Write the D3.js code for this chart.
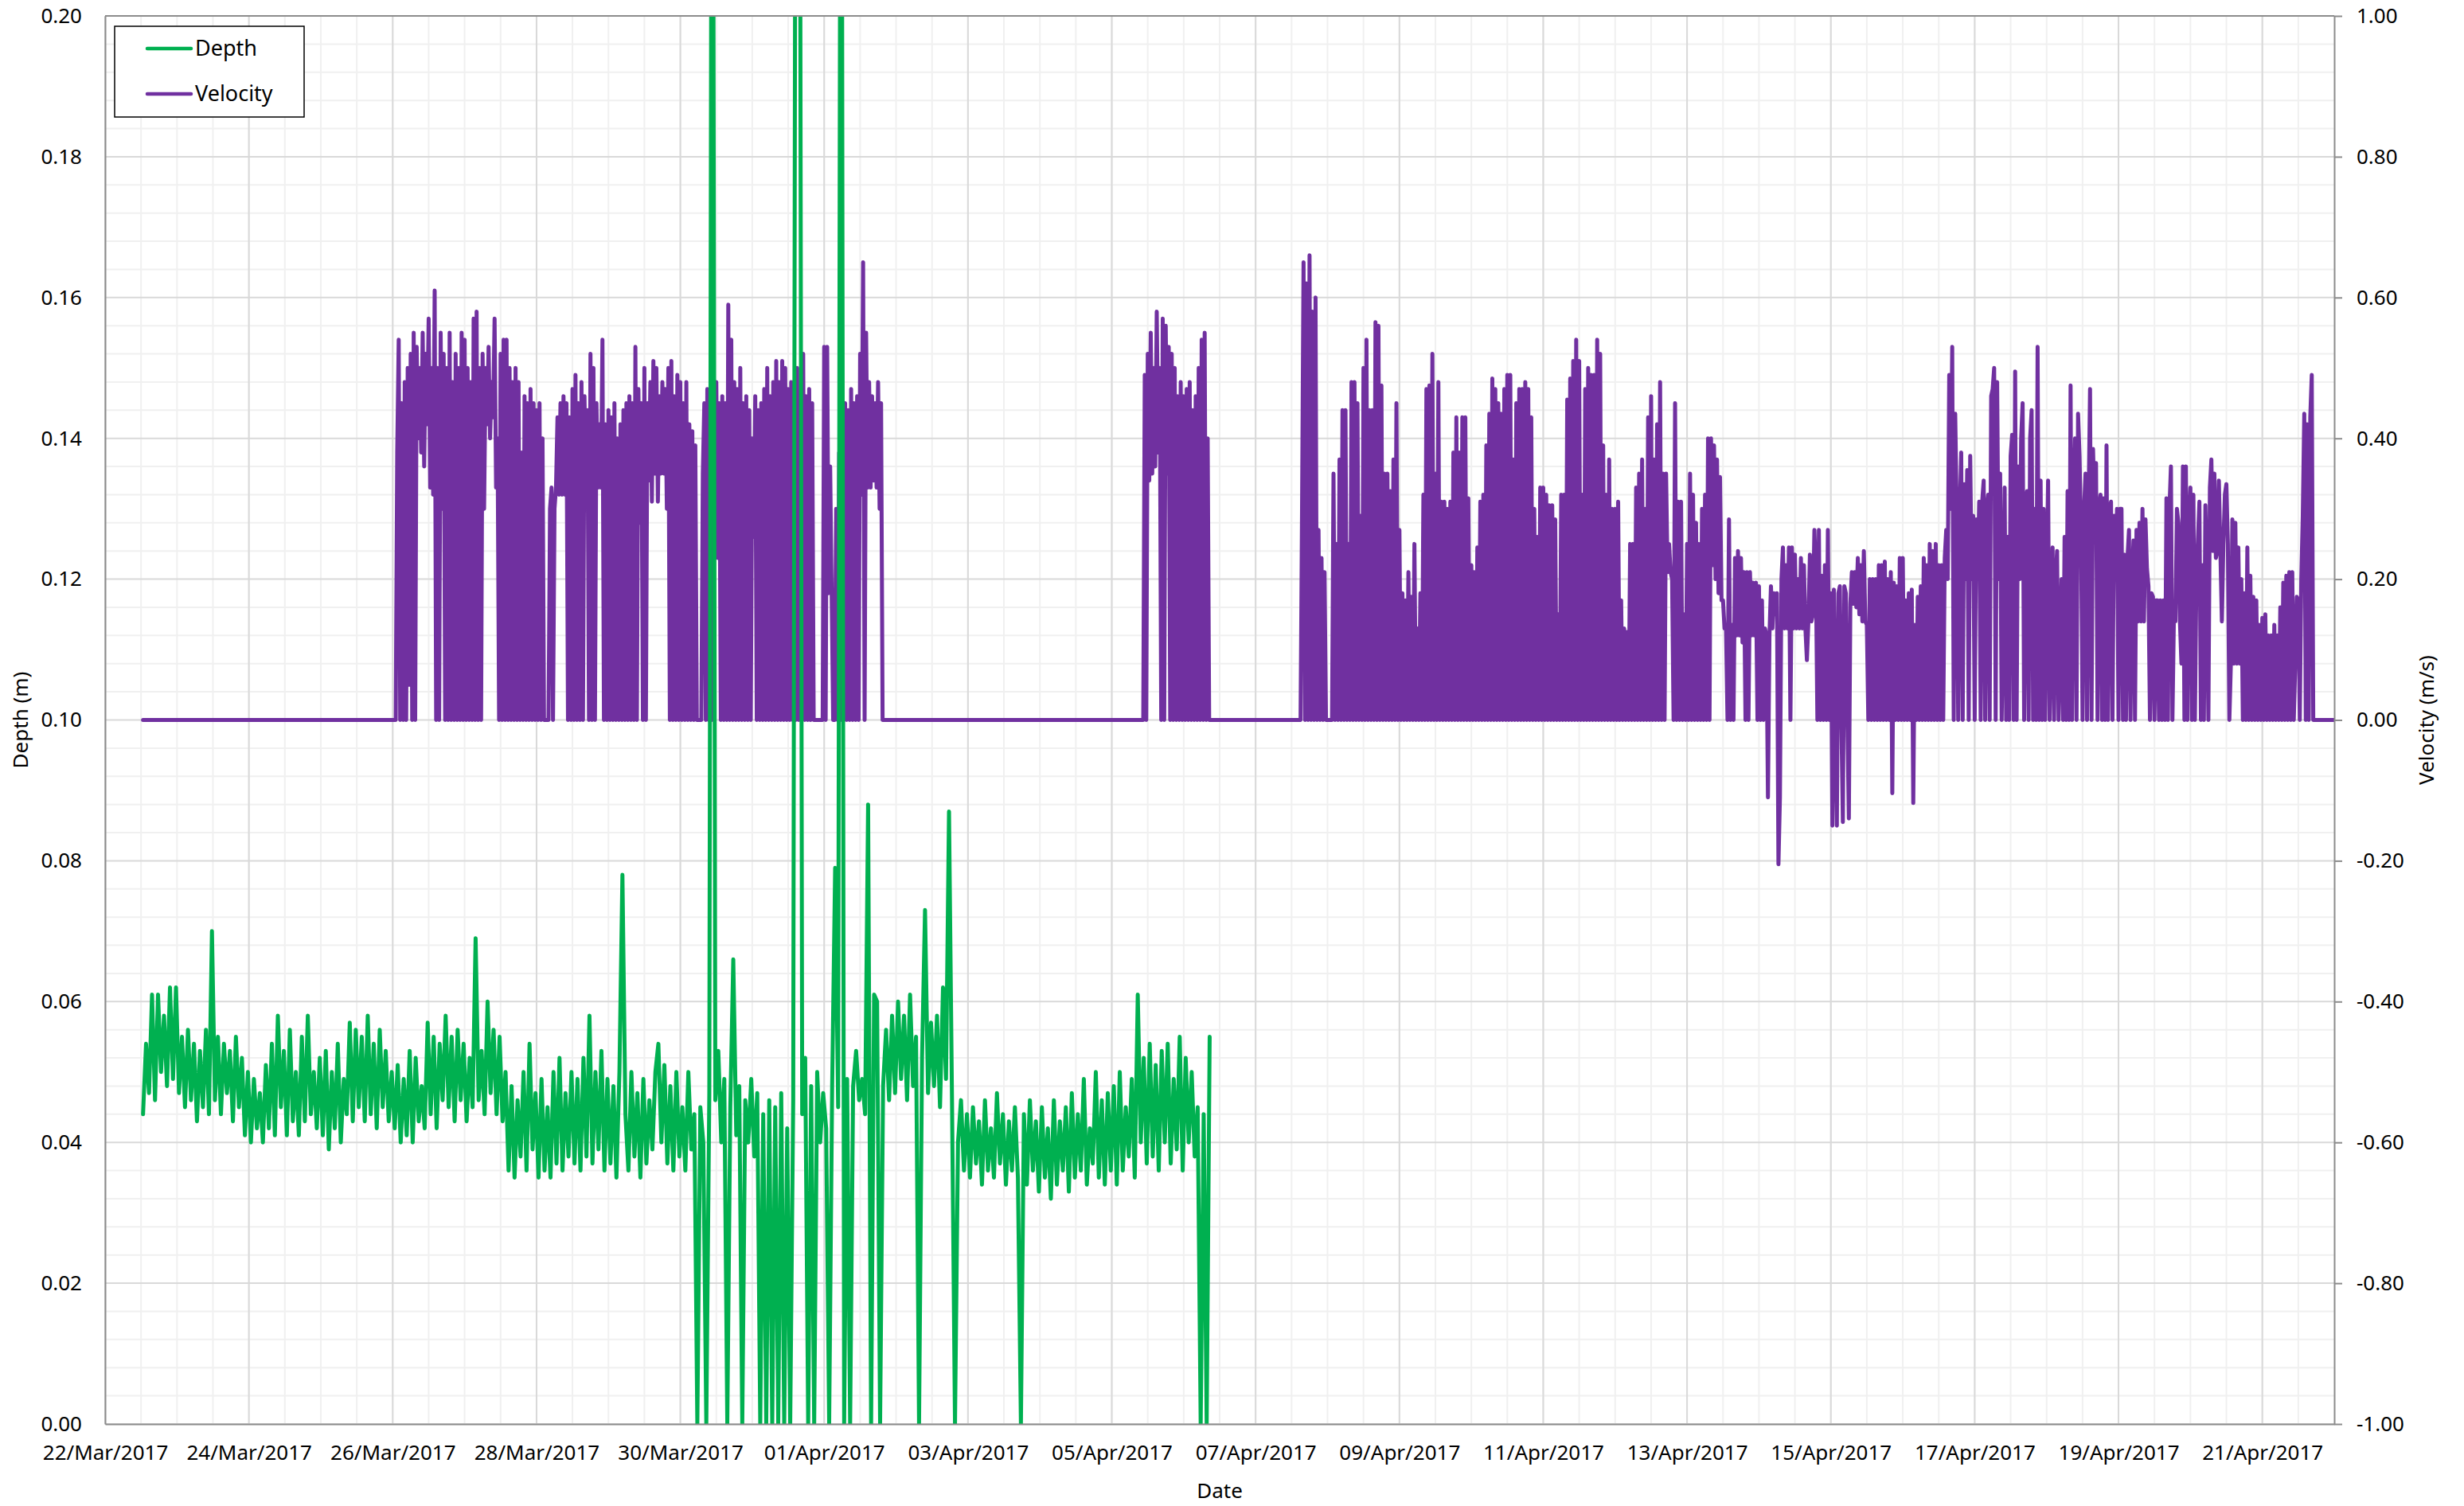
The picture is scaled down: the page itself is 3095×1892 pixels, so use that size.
<!DOCTYPE html>
<html>
<head>
<meta charset="utf-8">
<script src="https://cdn.jsdelivr.net/npm/d3@7"></script>
<style>
  body { margin: 0; background: #fff; }
  svg text { font-family: "Noto Sans", sans-serif; fill: #000; }
</style>
</head>
<body>
<div id="chart-container"></div>
<script>
// Axis ticks
var dateTicks = ["2017-03-22", "2017-03-24", "2017-03-26", "2017-03-28", "2017-03-30",
    "2017-04-01", "2017-04-03", "2017-04-05", "2017-04-07", "2017-04-09", "2017-04-11",
    "2017-04-13", "2017-04-15", "2017-04-17", "2017-04-19", "2017-04-21"];
var depthTicks = [0, 0.02, 0.04, 0.06, 0.08, 0.10, 0.12, 0.14, 0.16, 0.18, 0.20];
var velocityTicks = [-1, -0.8, -0.6, -0.4, -0.2, 0, 0.2, 0.4, 0.6, 0.8, 1];

// Logging period
var recordStart = "2017-03-22T12:40:00Z";
var recordEnd = "2017-04-22T00:00:00Z";

// Depth (m), hourly from recordStart
var depthStart = "2017-03-22T12:40:00Z";
var depthValues = [
    0.044, 0.054, 0.047, 0.061, 0.046, 0.061, 0.050, 0.058, 0.048, 0.062, 0.049, 0.062,
    0.047, 0.055, 0.045, 0.056, 0.046, 0.054, 0.043, 0.053, 0.045, 0.056, 0.044, 0.070,
    0.046, 0.055, 0.044, 0.054, 0.047, 0.053, 0.043, 0.055, 0.045, 0.052, 0.041, 0.050,
    0.040, 0.049, 0.042, 0.047, 0.040, 0.051, 0.042, 0.054, 0.041, 0.058, 0.045, 0.053,
    0.041, 0.056, 0.043, 0.050, 0.041, 0.055, 0.043, 0.058, 0.044, 0.050, 0.042, 0.052,
    0.041, 0.053, 0.039, 0.050, 0.042, 0.054, 0.040, 0.049, 0.044, 0.057, 0.043, 0.056,
    0.045, 0.055, 0.043, 0.058, 0.044, 0.054, 0.042, 0.056, 0.045, 0.053, 0.043, 0.050,
    0.042, 0.051, 0.040, 0.049, 0.041, 0.053, 0.040, 0.052, 0.043, 0.048, 0.042, 0.057,
    0.044, 0.055, 0.042, 0.054, 0.046, 0.058, 0.045, 0.055, 0.043, 0.056, 0.046, 0.054,
    0.043, 0.052, 0.045, 0.069, 0.046, 0.053, 0.044, 0.060, 0.047, 0.056, 0.044, 0.055,
    0.043, 0.050, 0.036, 0.048, 0.035, 0.046, 0.038, 0.050, 0.036, 0.054, 0.039, 0.047,
    0.035, 0.049, 0.036, 0.045, 0.035, 0.050, 0.037, 0.052, 0.036, 0.047, 0.038, 0.050,
    0.037, 0.049, 0.036, 0.052, 0.038, 0.058, 0.037, 0.050, 0.039, 0.053, 0.036, 0.049,
    0.037, 0.048, 0.035, 0.050, 0.078, 0.044, 0.036, 0.050, 0.038, 0.047, 0.035, 0.049,
    0.037, 0.046, 0.039, 0.050, 0.054, 0.040, 0.051, 0.037, 0.048, 0.036, 0.050, 0.038,
    0.045, 0.036, 0.050, 0.039, 0.044, 0, 0.045, 0.040, 0, 0.047, 0.300, 0.046,
    0.053, 0.040, 0.049, 0, 0.045, 0.066, 0.041, 0.048, 0, 0.046, 0.040, 0.049,
    0.038, 0.047, 0, 0.044, 0, 0.046, 0, 0.045, 0, 0.047, 0, 0.042,
    0, 0.046, 0.300, 0.300, 0.044, 0.052, 0, 0.048, 0, 0.050, 0.040, 0.047,
    0.042, 0, 0.048, 0.079, 0.045, 0.300, 0, 0.049, 0, 0.048, 0.053, 0.046,
    0.049, 0.044, 0.088, 0, 0.061, 0.060, 0, 0.048, 0.056, 0.046, 0.058, 0.047,
    0.060, 0.049, 0.058, 0.046, 0.061, 0.048, 0.055, 0, 0.052, 0.073, 0.047, 0.057,
    0.048, 0.058, 0.045, 0.062, 0.049, 0.087, 0.046, 0, 0.040, 0.046, 0.036, 0.044,
    0.035, 0.045, 0.037, 0.043, 0.034, 0.046, 0.036, 0.042, 0.035, 0.047, 0.037, 0.044,
    0.034, 0.043, 0.036, 0.045, 0.035, 0, 0.044, 0.034, 0.046, 0.036, 0.043, 0.033,
    0.045, 0.035, 0.042, 0.032, 0.046, 0.034, 0.043, 0.036, 0.045, 0.033, 0.047, 0.035,
    0.044, 0.036, 0.049, 0.034, 0.042, 0.037, 0.050, 0.035, 0.046, 0.034, 0.047, 0.036,
    0.048, 0.034, 0.050, 0.036, 0.045, 0.038, 0.049, 0.035, 0.061, 0.040, 0.052, 0.037,
    0.054, 0.038, 0.051, 0.036, 0.053, 0.040, 0.054, 0.037, 0.049, 0.039, 0.055, 0.036,
    0.052, 0.040, 0.050, 0.038, 0.045, 0, 0.044, 0, 0.055
];

// Velocity (m/s), 30 minute readings; zero outside these blocks
var velStart1 = "2017-03-26T00:00:00Z";
var velocity1 = [
    0,0, 0,0.38, 0.54,0, 0.45,0, 0.48,0, 0.50,0.05,
    0.52,0, 0.55,0, 0.53,0.40, 0.50,0.38, 0.55,0.36, 0.52,0.42,
    0.57,0.33, 0.50,0.32, 0.61,0, 0.50,0, 0.55,0.30, 0.52,0,
    0.50,0, 0.55,0, 0.48,0, 0.52,0, 0.50,0, 0.55,0,
    0.54,0, 0.50,0, 0.48,0, 0.57,0, 0.58,0, 0.50,0,
    0.52,0.30, 0.50,0.42, 0.53,0.40, 0.48,0.43, 0.57,0.33, 0.40,0,
    0.52,0, 0.54,0, 0.54,0, 0.50,0, 0.48,0, 0.50,0,
    0.48,0, 0.38,0, 0.46,0, 0.45,0, 0.47,0, 0.45,0,
    0.44,0, 0.45,0, 0.40,0, 0,0, 0,0.30, 0.33,0,
    0.30,0.33, 0.43,0.32, 0.45,0.32, 0.46,0.32, 0.45,0, 0.43,0,
    0.47,0, 0.49,0, 0.45,0, 0.48,0, 0.46,0.33, 0.44,0,
    0.52,0, 0.50,0, 0.45,0.33, 0.42,0.33, 0.54,0, 0.42,0,
    0.44,0, 0.43,0, 0.45,0, 0.40,0, 0.42,0, 0.44,0,
    0.45,0, 0.46,0, 0.45,0, 0.53,0, 0.47,0.28, 0.45,0,
    0.50,0, 0.45,0.34, 0.48,0.31, 0.51,0.35, 0.50,0.31, 0.46,0.35,
    0.48,0.35, 0.47,0.30, 0.50,0, 0.51,0, 0.46,0, 0.49,0,
    0.48,0, 0.45,0, 0.48,0, 0.42,0, 0.41,0, 0.39,0,
    0,0, 0,0.35, 0.45,0, 0.47,0, 0.46,0, 0.47,0.23,
    0.48,0.23, 0.45,0, 0.46,0, 0.45,0, 0.59,0, 0.54,0,
    0.48,0, 0.47,0, 0.50,0, 0.45,0, 0.46,0, 0.44,0,
    0.40,0.26, 0.46,0, 0.44,0, 0.45,0, 0.47,0, 0.50,0,
    0.46,0, 0.48,0, 0.51,0, 0.48,0, 0.51,0, 0.50,0,
    0.47,0, 0.48,0, 0.48,0, 0.50,0, 0.45,0.29, 0.52,0,
    0.46,0, 0.47,0, 0.45,0, 0,0, 0,0, 0,0,
    0.53,0, 0.53,0.18, 0.36,0.18, 0,0, 0.30,0, 0.38,0,
    0.42,0, 0.45,0, 0.44,0, 0.47,0, 0.45,0, 0.46,0,
    0.52,0.32, 0.65,0, 0.55,0.33, 0.48,0.33, 0.46,0.34, 0.45,0.33,
    0.48,0.30, 0.45,0, 0,0
];

var velStart2 = "2017-04-05T10:00:00Z";
var velocity2 = [
    0,0, 0.49,0, 0.52,0.34, 0.55,0.35, 0.50,0.36, 0.58,0.38,
    0.50,0, 0.57,0, 0.56,0.35, 0.53,0, 0.52,0, 0.50,0,
    0.46,0, 0.48,0, 0.46,0, 0.47,0, 0.48,0, 0.44,0,
    0.46,0, 0.50,0, 0.54,0, 0.55,0, 0.40,0, 0,0
];

var velStart3 = "2017-04-07T15:00:00Z";
var velocity3 = [
    0,0.30, 0.65,0, 0.62,0, 0.66,0, 0.58,0, 0.60,0,
    0.27,0, 0.23,0, 0.21,0, 0,0, 0,0, 0.35,0,
    0.25,0, 0.37,0, 0.44,0, 0.44,0, 0.25,0, 0.48,0,
    0.48,0, 0.45,0, 0.29,0, 0.50,0, 0.54,0, 0.44,0,
    0.44,0, 0.565,0, 0.56,0, 0.475,0, 0.35,0, 0.35,0,
    0.325,0, 0.37,0, 0.45,0, 0.27,0, 0.18,0, 0.17,0,
    0.21,0, 0.175,0, 0.25,0, 0.13,0, 0.18,0, 0.32,0,
    0.47,0, 0.475,0, 0.52,0, 0.35,0, 0.48,0, 0.31,0,
    0.31,0, 0.30,0, 0.31,0, 0.38,0, 0.43,0, 0.38,0,
    0.43,0, 0.43,0, 0.315,0, 0.22,0, 0.21,0, 0.245,0,
    0.31,0, 0.32,0, 0.39,0, 0.435,0, 0.485,0, 0.47,0,
    0.45,0, 0.435,0, 0.47,0, 0.49,0, 0.49,0, 0.37,0,
    0.45,0, 0.47,0, 0.47,0, 0.48,0, 0.47,0, 0.43,0,
    0.30,0, 0.26,0, 0.33,0, 0.33,0, 0.32,0, 0.305,0,
    0.305,0, 0.285,0, 0.15,0, 0.32,0, 0.32,0, 0.455,0,
    0.485,0, 0.51,0, 0.54,0, 0.51,0, 0.32,0, 0.47,0,
    0.50,0, 0.49,0, 0.49,0, 0.54,0, 0.52,0, 0.39,0,
    0.32,0, 0.37,0, 0.30,0, 0.30,0, 0.31,0, 0.17,0,
    0.13,0, 0.125,0, 0.25,0, 0.25,0, 0.33,0, 0.35,0,
    0.37,0, 0.30,0, 0.43,0, 0.46,0, 0.37,0, 0.42,0,
    0.48,0, 0.35,0, 0.35,0.21, 0.25,0.21, 0.20,0, 0.45,0,
    0.31,0, 0.31,0, 0.15,0, 0.25,0, 0.35,0, 0.32,0,
    0.28,0, 0.25,0, 0.30,0, 0.32,0, 0.40,0, 0.40,0.22,
    0.39,0.20, 0.37,0.18, 0.345,0.17, 0.17,0.13, 0.13,0, 0.285,0,
    0.135,0, 0.23,0.12, 0.24,0.12, 0.23,0.11, 0.21,0, 0.21,0,
    0.21,0.12, 0.195,0.12, 0.195,0, 0.19,0, 0.17,0, 0.13,0.12,
    -0.11,0.12, 0.19,0.13, 0.18,0.15, 0.18,-0.205, -0.11,0.20, 0.245,0.13,
    0.22,0.13, 0.245,0, 0.245,0.13, 0.235,0.13, 0.20,0.13, 0.23,0.13,
    0.22,0.13, 0.085,0.14, 0.235,0.14, 0.15,0.27, 0.205,0, 0.27,0,
    0.205,0, 0.22,0, 0.27,0, 0.18,-0.15, 0.185,0, -0.15,0.18,
    0.19,0, -0.145,0.19, 0.18,0, -0.14,0.165, 0.21,0.165, 0.21,0.16,
    0.23,0.15, 0.22,0.14, 0.24,0.14, 0.135,0, 0.20,0, 0.20,0,
    0.20,0, 0.22,0, 0.22,0, 0.225,0, 0.20,0, 0.21,-0.104,
    0.195,0, 0.19,0, 0.23,0, 0.23,0, 0.17,0, 0.18,0,
    0.185,-0.118, 0.135,0, 0.175,0, 0.19,0, 0.23,0, 0.22,0,
    0.25,0, 0.24,0, 0.25,0, 0.22,0, 0.22,0, 0.23,0.27,
    0.2,0.49, 0.3,0.53, 0,0.435, 0.3,0, 0.29,0.38, 0,0.335,
    0.2,0.355, 0,0.375, 0.2,0.29, 0,0.285, 0.2,0.31, 0,0.31,
    0.34,0, 0.3,0.32, 0,0.46, 0.47,0.50, 0,0.48, 0.2,0.35,
    0,0.15, 0.33,0, 0.26,0, 0.375,0.405, 0,0.495, 0,0.36,
    0.2,0.40, 0.45,0, 0.3,0.325, 0,0.40, 0.44,0, 0.3,0,
    0.53,0, 0.34,0, 0.30,0, 0.2,0.34, 0,0.14, 0.245,0,
    0.2,0.24, 0,0.12, 0.2,0, 0.26,0, 0.325,0, 0.475,0,
    0.3,0.40, 0,0.435, 0.375,0.26, 0,0.3, 0.35,0, 0.3,0.47,
    0,0.385, 0.3,0.365, 0,0.3, 0.32,0, 0.315,0, 0.39,0,
    0.3,0.31, 0,0.29, 0.2,0.30, 0,0.3, 0.30,0, 0.235,0,
    0.23,0.27, 0,0.2, 0.255,0, 0.27,0.14, 0.28,0.14, 0.30,0.14,
    0.285,0.215, 0.19,0, 0.18,0.175, 0,0.17, 0.17,0, 0.17,0,
    0.17,0, 0.315,0, 0.3,0.36, 0,0.15, 0.14,0.30, 0.28,0.14,
    0.08,0.36, 0,0.36, 0,0.28, 0.33,0, 0.32,0, 0.2,0.255,
    0.31,0, 0.22,0, 0.305,0.2, 0,0.33, 0.37,0.24, 0.35,0.23,
    0.24,0.34, 0.24,0.14, 0.25,0.32, 0.335,0.25, 0,0.08, 0.285,0.08,
    0.28,0.08, 0.245,0.08, 0.2,0, 0.18,0, 0.245,0, 0.205,0,
    0.175,0, 0.17,0, 0.135,0, 0.145,0, 0.15,0, 0.12,0,
    0.12,0, 0.135,0, 0.12,0, 0.16,0, 0.195,0, 0.205,0,
    0.21,0, 0.21,0, 0.08,0.175, 0.17,0, 0.2,0.29, 0.435,0,
    0.42,0, 0.43,0.49, 0,0
];

// Set up margins and dimensions
var margin = { top: 20, right: 163, bottom: 103, left: 132 };
var width = 2800;
var height = 1769;

var parseDay = d3.utcParse("%Y-%m-%d");

function series(start, stepMinutes, values) {
    var t0 = new Date(start).getTime();
    return values.map(function(v, i) {
        return { t: new Date(t0 + i * stepMinutes * 60000), v: v };
    });
}

var depthData = series(depthStart, 60, depthValues);
var velocityData = [{ t: new Date(recordStart), v: 0 }]
    .concat(series(velStart1, 30, velocity1))
    .concat(series(velStart2, 30, velocity2))
    .concat(series(velStart3, 30, velocity3))
    .concat([{ t: new Date(recordEnd), v: 0 }]);

// Scales
var xScale = d3.scaleUtc()
    .domain([parseDay("2017-03-22"), parseDay("2017-04-22")])
    .range([0, width]);
var yDepth = d3.scaleLinear().domain([0, 0.2]).range([height, 0]);
var yVel = d3.scaleLinear().domain([-1, 1]).range([height, 0]);

var svg = d3.select("#chart-container")
    .append("svg")
    .attr("width", 3095)
    .attr("height", 1892)
    .append("g")
    .attr("transform", "translate(" + margin.left + "," + margin.top + ")");

// Gridlines: minor first, then major
var minorY = d3.range(0, 51).filter(function(i) { return i % 5 !== 0; }).map(function(i) { return i * 0.004; });
var minorX = d3.utcHour.every(12).range(xScale.domain()[0], xScale.domain()[1]);

svg.append("g").selectAll("line").data(minorY).enter().append("line")
    .attr("x1", 0).attr("x2", width)
    .attr("y1", function(d) { return yDepth(d); })
    .attr("y2", function(d) { return yDepth(d); })
    .attr("stroke", "#f0f0f0").attr("stroke-width", 2);

svg.append("g").selectAll("line").data(minorX).enter().append("line")
    .attr("y1", 0).attr("y2", height)
    .attr("x1", function(d) { return xScale(d); })
    .attr("x2", function(d) { return xScale(d); })
    .attr("stroke", "#f0f0f0").attr("stroke-width", 2);

svg.append("g").selectAll("line").data(depthTicks).enter().append("line")
    .attr("x1", 0).attr("x2", width)
    .attr("y1", function(d) { return yDepth(d); })
    .attr("y2", function(d) { return yDepth(d); })
    .attr("stroke", "#d9d9d9").attr("stroke-width", 2);

svg.append("g").selectAll("line").data(dateTicks.map(parseDay)).enter().append("line")
    .attr("y1", 0).attr("y2", height)
    .attr("x1", function(d) { return xScale(d); })
    .attr("x2", function(d) { return xScale(d); })
    .attr("stroke", "#d9d9d9").attr("stroke-width", 2);

// Lines
svg.append("clipPath").attr("id", "plot-clip")
    .append("rect").attr("x", 0).attr("y", 0).attr("width", width).attr("height", height);

var lineVelocity = d3.line()
    .x(function(d) { return xScale(d.t); })
    .y(function(d) { return yVel(d.v); });

var lineDepth = d3.line()
    .x(function(d) { return xScale(d.t); })
    .y(function(d) { return yDepth(d.v); });

svg.append("path")
    .datum(velocityData)
    .attr("clip-path", "url(#plot-clip)")
    .attr("fill", "none")
    .attr("stroke", "#7030a0")
    .attr("stroke-width", 5)
    .attr("stroke-linejoin", "round")
    .attr("stroke-linecap", "round")
    .attr("d", lineVelocity);

svg.append("path")
    .datum(depthData)
    .attr("clip-path", "url(#plot-clip)")
    .attr("fill", "none")
    .attr("stroke", "#00b050")
    .attr("stroke-width", 5)
    .attr("stroke-linejoin", "round")
    .attr("stroke-linecap", "round")
    .attr("d", lineDepth);

// Axes
var axisColor = "#8c8c8c";
var fmt2 = function(d) { return d.toFixed(2); };

var leftAxis = svg.append("g")
    .call(d3.axisLeft(yDepth).tickValues(depthTicks).tickFormat(fmt2)
        .tickSize(0).tickSizeOuter(0).tickPadding(29));

var rightAxis = svg.append("g")
    .attr("transform", "translate(" + width + ",0)")
    .call(d3.axisRight(yVel).tickValues(velocityTicks).tickFormat(fmt2)
        .tickSize(10).tickSizeOuter(0).tickPadding(18));

var bottomAxis = svg.append("g")
    .attr("transform", "translate(0," + height + ")")
    .call(d3.axisBottom(xScale).tickValues(dateTicks.map(parseDay))
        .tickFormat(d3.utcFormat("%d/%b/%Y"))
        .tickSize(0).tickSizeOuter(0).tickPadding(27));

[leftAxis, rightAxis, bottomAxis].forEach(function(ax) {
    ax.attr("font-family", "Noto Sans").attr("font-size", 26);
    ax.selectAll(".domain").attr("stroke", axisColor).attr("stroke-width", 2);
    ax.selectAll(".tick line").attr("stroke", axisColor).attr("stroke-width", 2);
    ax.selectAll("text").attr("fill", "#000");
});

svg.append("line")
    .attr("x1", 0).attr("x2", width).attr("y1", 0).attr("y2", 0)
    .attr("stroke", axisColor).attr("stroke-width", 2);

// Axis titles
svg.append("text")
    .attr("x", width / 2)
    .attr("y", 1882 - margin.top)
    .attr("text-anchor", "middle")
    .style("font-size", "26px")
    .text("Date");

svg.append("text")
    .attr("transform", "translate(" + (35 - margin.left) + "," + (height / 2) + ") rotate(-90)")
    .attr("text-anchor", "middle")
    .style("font-size", "26px")
    .text("Depth (m)");

svg.append("text")
    .attr("transform", "translate(" + (3057 - margin.left) + "," + (height / 2) + ") rotate(-90)")
    .attr("text-anchor", "middle")
    .style("font-size", "26px")
    .text("Velocity (m/s)");

// Legend
var legend = svg.append("g")
    .attr("class", "legend")
    .attr("transform", "translate(12,13)");

legend.append("rect")
    .attr("width", 238)
    .attr("height", 114)
    .attr("fill", "#fff")
    .attr("stroke", "#000")
    .attr("stroke-width", 1.5);

var legendItems = [["Depth", "#00b050", 28], ["Velocity", "#7030a0", 85]];
legendItems.forEach(function(item) {
    legend.append("line")
        .attr("x1", 41).attr("x2", 96)
        .attr("y1", item[2]).attr("y2", item[2])
        .attr("stroke", item[1])
        .attr("stroke-width", 4.5)
        .attr("stroke-linecap", "round");
    legend.append("text")
        .attr("x", 101)
        .attr("y", item[2])
        .attr("dy", "0.35em")
        .style("font-size", "27px")
        .text(item[0]);
});
</script>
</body>
</html>
